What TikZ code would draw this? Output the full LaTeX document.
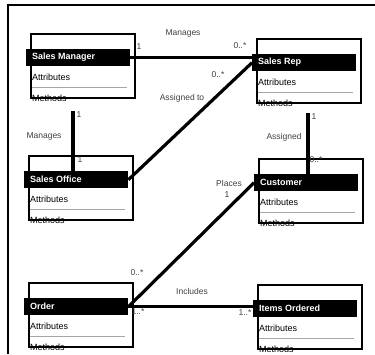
\documentclass[tikz,border=0pt]{standalone}
\usepackage{fontspec}
\setmainfont{Liberation Sans}
\usetikzlibrary{calc}
\begin{document}
\begin{tikzpicture}[x=1pt,y=-1pt,
    box/.style={draw,line width=1.8pt,minimum width=104pt,minimum height=64pt,
                anchor=north west,inner sep=0pt},
    bar/.style={fill=black,minimum width=104pt,minimum height=17pt,
                anchor=north west,inner sep=0pt},
    title/.style={text=white,font=\bfseries\fontsize{9}{10}\selectfont,
                  anchor=west,inner sep=0pt},
    item/.style={font=\fontsize{9}{10}\selectfont,anchor=west,inner sep=0pt},
    sep/.style={gray!70,line width=0.9pt},
    link/.style={line width=3.2pt},
    lbl/.style={font=\fontsize{8.5}{9}\selectfont,text=black!75,inner sep=0pt}
  ]
  \useasboundingbox (0,0) rectangle (375,354);
  \draw[line width=1.8pt] (375,5) -- (8,5) -- (8,354);
  % classes
  \foreach \n/\x/\y/\t in {SM/30/33/Sales Manager, SR/256/38/Sales Rep,
      SO/28/155/Sales Office, CU/258/158/Customer,
      OR/28/282/Order, IO/257/284/Items Ordered}{
    \node[box] (\n) at (\x,\y) {};
    \node[bar] (\n-bar) at (\x-4,\y+16) {};
    \node[title] (\n-t) at (\x+2,\y+24.5) {\t};
    \node[item] (\n-a) at (\x+2,\y+44) {Attributes};
    \draw[sep] (\x+2,\y+54) -- (\x+97,\y+54);
    \node[item] (\n-m) at (\x+2,\y+65) {Methods};
  }
  % associations
  \draw[link] (SM-bar.east) -- (SM-bar.east -| SR-bar.west);
  \draw[link] (SO-bar.east) -- (SR-bar.west);
  \draw[link] ($(SM.south)+(-10,12)$) -- ($(SM.south |- SO-bar.north)+(-10,0)$);
  \draw[link] ($(SR.south)+(-1,9)$) -- ($(SR.south |- CU-bar.north)+(-1,0)$);
  \draw[link] (OR-bar.east) -- (CU-bar.west);
  \draw[link] (OR-bar.east) -- (OR-bar.east -| IO-bar.west);
  % labels
  \node[lbl] (lmgr) at (183,33) {Manages};
  \node[lbl] (m1) at (139,47) {1};
  \node[lbl] (m2) at (240,46) {0..*};
  \node[lbl] (m3) at (218,75) {0..*};
  \node[lbl] (lasg) at (182,98) {Assigned to};
  \node[lbl] (m4) at (79,115) {1};
  \node[lbl] (lmgr2) at (44,136) {Manages};
  \node[lbl] (m5) at (80,160) {1};
  \node[lbl] (m6) at (314,117) {1};
  \node[lbl] (lasg2) at (284,137) {Assigned};
  \node[lbl] (m7) at (316,160) {0..*};
  \node[lbl] (lpl) at (229,183) {Places};
  \node[lbl] (m8) at (227,195) {1};
  \node[lbl] (m9) at (137,273) {0..*};
  \node[lbl] (linc) at (192,291) {Includes};
  \node[lbl] (m10) at (138,312) {1..*};
  \node[lbl] (m11) at (245,313) {1..*};
\end{tikzpicture}
\end{document}
